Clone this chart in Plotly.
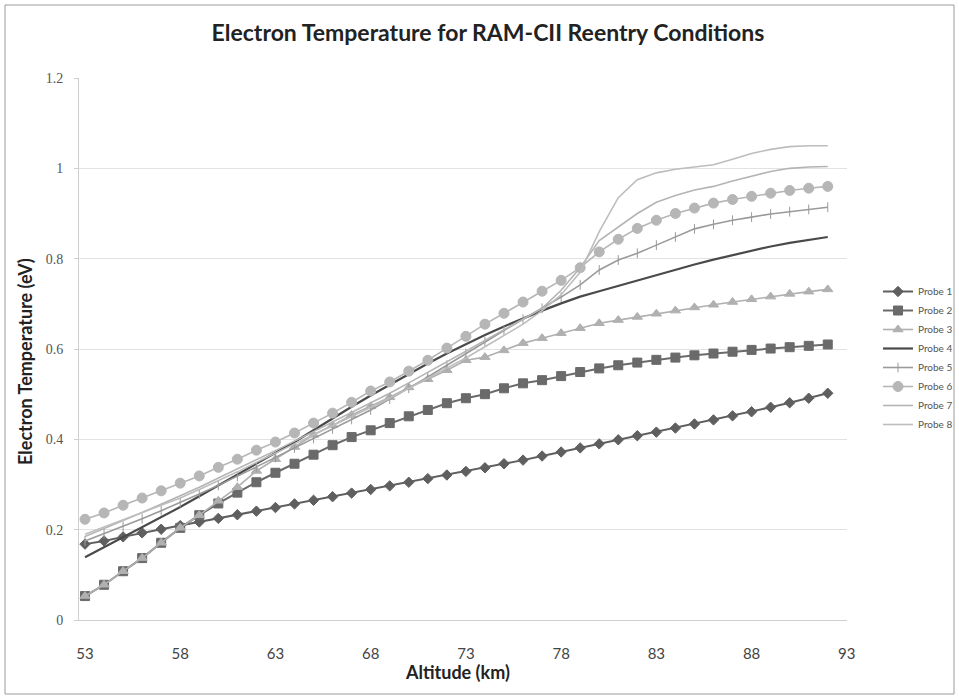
import plotly.graph_objects as go

# Altitude categories (km)
altitude = list(range(53, 93))

# Electron temperature (eV) for each probe, one value per altitude
probe1 = [0.168, 0.175, 0.184, 0.193, 0.201, 0.209, 0.217, 0.225, 0.233, 0.241,
          0.249, 0.257, 0.265, 0.273, 0.281, 0.289, 0.297, 0.305, 0.313, 0.321,
          0.329, 0.337, 0.346, 0.354, 0.363, 0.372, 0.381, 0.390, 0.399, 0.408,
          0.416, 0.425, 0.434, 0.443, 0.452, 0.461, 0.471, 0.481, 0.491, 0.502]
probe2 = [0.053, 0.078, 0.108, 0.137, 0.171, 0.204, 0.232, 0.258, 0.282, 0.305,
          0.326, 0.346, 0.366, 0.387, 0.405, 0.420, 0.436, 0.451, 0.465, 0.480,
          0.491, 0.500, 0.513, 0.524, 0.531, 0.540, 0.549, 0.557, 0.564, 0.570,
          0.576, 0.581, 0.586, 0.590, 0.594, 0.598, 0.601, 0.604, 0.607, 0.610]
probe3 = [0.053, 0.078, 0.108, 0.137, 0.171, 0.204, 0.232, 0.264, 0.294, 0.330,
          0.356, 0.383, 0.410, 0.431, 0.454, 0.473, 0.493, 0.515, 0.533, 0.553,
          0.575, 0.582, 0.597, 0.613, 0.624, 0.635, 0.646, 0.657, 0.664, 0.671,
          0.678, 0.685, 0.692, 0.698, 0.704, 0.710, 0.716, 0.722, 0.727, 0.732]
probe4 = [0.139, 0.161, 0.183, 0.205, 0.227, 0.250, 0.274, 0.298, 0.322, 0.346,
          0.370, 0.394, 0.420, 0.447, 0.472, 0.497, 0.521, 0.545, 0.568, 0.590,
          0.611, 0.631, 0.650, 0.668, 0.685, 0.701, 0.716, 0.728, 0.740, 0.752,
          0.764, 0.776, 0.787, 0.798, 0.808, 0.818, 0.827, 0.835, 0.842, 0.848]
probe5 = [0.175, 0.191, 0.207, 0.224, 0.242, 0.260, 0.279, 0.298, 0.318, 0.339,
          0.360, 0.381, 0.402, 0.423, 0.444, 0.465, 0.489, 0.513, 0.538, 0.564,
          0.590, 0.616, 0.641, 0.666, 0.690, 0.715, 0.742, 0.775, 0.797, 0.812,
          0.830, 0.848, 0.866, 0.876, 0.885, 0.892, 0.899, 0.904, 0.909, 0.914]
probe6 = [0.223, 0.237, 0.254, 0.270, 0.286, 0.303, 0.319, 0.338, 0.356, 0.376,
          0.394, 0.414, 0.436, 0.458, 0.482, 0.507, 0.527, 0.551, 0.575, 0.602,
          0.628, 0.655, 0.679, 0.704, 0.728, 0.752, 0.780, 0.815, 0.843, 0.867,
          0.885, 0.900, 0.912, 0.923, 0.931, 0.938, 0.945, 0.951, 0.956, 0.960]
probe7 = [0.185, 0.202, 0.220, 0.238, 0.256, 0.275, 0.294, 0.314, 0.334, 0.354,
          0.375, 0.396, 0.417, 0.438, 0.459, 0.480, 0.502, 0.525, 0.548, 0.571,
          0.595, 0.619, 0.643, 0.666, 0.690, 0.730, 0.780, 0.840, 0.870, 0.900,
          0.925, 0.940, 0.952, 0.960, 0.972, 0.983, 0.993, 1.000, 1.003, 1.004]
probe8 = [0.190, 0.206, 0.222, 0.238, 0.254, 0.270, 0.289, 0.308, 0.328, 0.349,
          0.370, 0.390, 0.410, 0.430, 0.450, 0.470, 0.491, 0.513, 0.535, 0.557,
          0.580, 0.605, 0.630, 0.655, 0.685, 0.720, 0.770, 0.860, 0.935, 0.975,
          0.990, 0.998, 1.003, 1.008, 1.020, 1.033, 1.042, 1.048, 1.050, 1.050]

names = ["Probe 1", "Probe 2", "Probe 3", "Probe 4",
         "Probe 5", "Probe 6", "Probe 7", "Probe 8"]
series = [probe1, probe2, probe3, probe4, probe5, probe6, probe7, probe8]

x_ticks = [53, 58, 63, 68, 73, 78, 83, 88, 93]
y_ticks = [0, 0.2, 0.4, 0.6, 0.8, 1.0, 1.2]
y_tick_text = ["0", "0.2", "0.4", "0.6", "0.8", "1", "1.2"]

# Line / marker appearance per probe
styles = [
    dict(color="#5f5f5f", width=2.0, symbol="diamond", size=8, mode="lines+markers"),
    dict(color="#6a6a6a", width=2.0, symbol="square", size=9, mode="lines+markers"),
    dict(color="#b0b0b0", width=1.6, symbol="triangle-up", size=9, mode="lines+markers"),
    dict(color="#4a4a4a", width=2.2, symbol=None, size=0, mode="lines"),
    dict(color="#9a9a9a", width=1.6, symbol="line-ns-open", size=7, mode="lines+markers"),
    dict(color="#b6b6b6", width=1.6, symbol="circle", size=10, mode="lines+markers"),
    dict(color="#b4b4b4", width=1.6, symbol=None, size=0, mode="lines"),
    dict(color="#bdbdbd", width=1.6, symbol=None, size=0, mode="lines"),
]

fig = go.Figure()
for name, vals, st in zip(names, series, styles):
    kw = dict(x=altitude, y=vals, name=name, mode=st["mode"],
              line=dict(color=st["color"], width=st["width"]))
    if st["symbol"]:
        kw["marker"] = dict(symbol=st["symbol"], size=st["size"], color=st["color"],
                            line=dict(color=st["color"], width=1))
    fig.add_trace(go.Scatter(**kw))

# plot-area edges in pixels
L, R, T, B = 79, 847, 78, 620
W, H = 959, 698


def px_x(p):
    return (p - L) / (R - L)


def px_y(p):
    return (B - p) / (B - T)


fig.update_layout(
    width=W, height=H,
    margin=dict(l=L, r=W - R, t=T, b=H - B, pad=0, autoexpand=False),
    paper_bgcolor="white", plot_bgcolor="white",
    font=dict(family="Lato, Open Sans, sans-serif", color="#444444"),
    title=dict(text="<b>Electron Temperature for RAM-CII Reentry Conditions</b>",
               x=488 / W, xanchor="center", y=1 - 33 / H, yanchor="middle",
               xref="container", yref="container",
               font=dict(family="Lato, sans-serif", size=23, color="#222222")),
    showlegend=True,
    legend=dict(x=px_x(878), xanchor="left",
                y=px_y(277), yanchor="top",
                font=dict(family="Lato, sans-serif", size=10, color="#555555"),
                itemwidth=30, bgcolor="rgba(0,0,0,0)", tracegroupgap=0),
    xaxis=dict(range=[52.685, 93.01], tickmode="array", tickvals=x_ticks,
               ticktext=[str(v) for v in x_ticks], showgrid=False, zeroline=False,
               showline=True, linecolor="#cfcfcf", linewidth=1, ticks="",
               ticklabelstandoff=20,
               tickfont=dict(family="Lato, sans-serif", size=15, color="#444444")),
    yaxis=dict(range=[0, 1.2], tickmode="array", tickvals=y_ticks, ticktext=y_tick_text,
               showgrid=True, gridcolor="#e2e2e2", gridwidth=1, zeroline=False,
               showline=True, linecolor="#cfcfcf", linewidth=1,
               ticks="outside", ticklen=4, tickcolor="#cfcfcf",
               ticklabelstandoff=8,
               tickfont=dict(family="Liberation Serif, serif", size=14, color="#555555")),
    annotations=[
        dict(text="<b>Altitude (km)</b>", xref="paper", yref="paper",
             x=px_x(457), y=px_y(672), xanchor="center", yanchor="middle",
             showarrow=False, font=dict(family="Lato, sans-serif", size=18, color="#222222")),
        dict(text="<b>Electron Temperature (eV)</b>", xref="paper", yref="paper",
             x=px_x(25), y=px_y(362), xanchor="center", yanchor="middle",
             textangle=-90, showarrow=False,
             font=dict(family="Lato, sans-serif", size=18, color="#222222")),
    ],
    shapes=[
        dict(type="rect", xref="paper", yref="paper",
             x0=px_x(5), x1=px_x(954), y0=px_y(694), y1=px_y(5),
             line=dict(color="#9a9a9a", width=1), fillcolor="rgba(0,0,0,0)", layer="below"),
    ],
)

fig.write_html("out.html")
